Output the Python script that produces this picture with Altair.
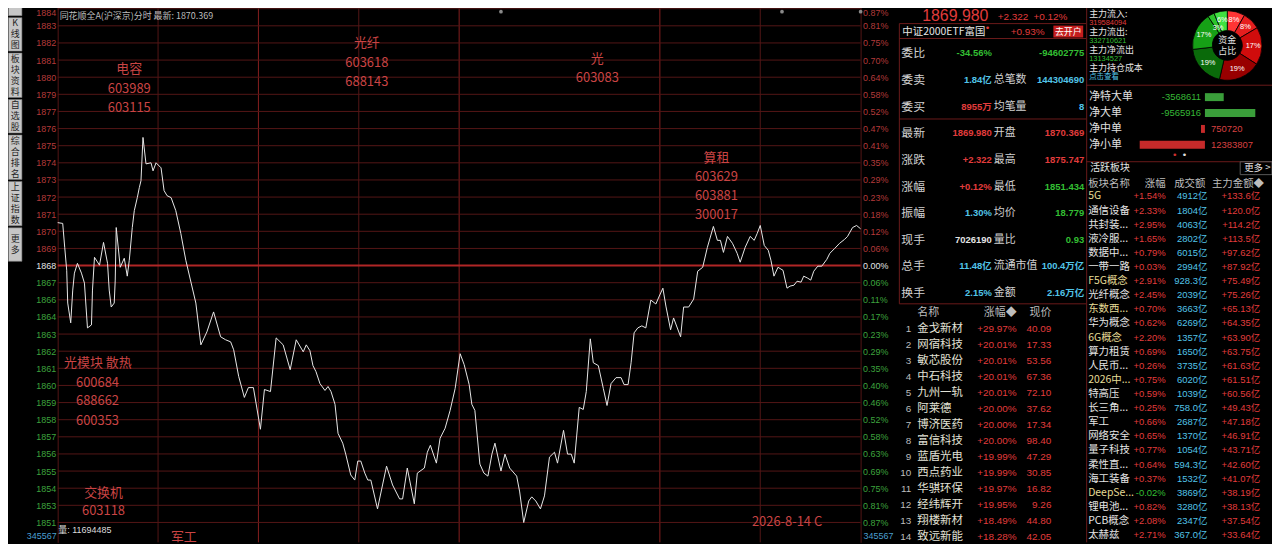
import json
import altair as alt
import pandas as pd

W, H = 1280, 544
PLOT_L, PLOT_R = 58, 866      # intraday plot area (px)
RIGHT_X = 1093                # left edge of the money-flow panel
SAFE = 8                      # page margin hides the first 8px on top/left

# colours / fonts
BG = "#000000"
GRID = "#541616"
GRID_V = "#861f1f"
ZERO_C = "#b02626"
BOX = "#6a1a1a"
ANN = "#c94444"
AX_RED = "#b43a3a"
AX_GREEN = "#3da33d"
RED = "#e23c3c"
GREEN = "#33bf33"
CYAN = "#52c4e8"
WHITE = "#e4e4e4"
GRAY = "#bdbdbd"
YEL = "#e6dc96"
NUM = "Liberation Sans, Noto Sans CJK SC"
CJK = "Noto Sans CJK SC"

# ---------------- data ----------------
PREV = 1867.658
LAST = 1869.980
HIGH = 1875.747
LOW = 1851.434
HEADER = "同花顺全A(沪深京)分时 最新: 1870.369"
VOLUME = 11694485
VOL_SCALE = 345567

minutes = [0, 1.5, 2.1, 2.7, 3.0, 3.9, 4.5, 5.0, 5.9, 7.1,
           8.0, 8.9, 10.1, 10.4, 11.0, 12.5, 13.7, 14.9, 15.4, 16.0,
           16.9, 17.2, 17.5, 18.7, 19.9, 20.8, 21.4, 22.3, 22.9, 23.8,
           24.4, 24.9, 25.5, 26.4, 27.9, 28.5, 29.4, 30.9, 31.8, 32.7,
           33.9, 35.3, 36.8, 38.3, 41.3, 42.8, 44.6, 46.6, 48.7, 50.2,
           51.7, 52.6, 54.1, 55.8, 57.0, 58.5, 60.6, 61.8, 63.6, 65.3,
           67.4, 69.5, 71.3, 73.4, 74.3, 75.4, 76.3, 77.2, 78.4, 79.9,
           80.8, 81.7, 82.9, 83.8, 85.2, 86.1, 87.6, 88.8, 89.7, 90.6,
           91.8, 92.7, 93.6, 95.6, 97.1, 98.3, 100.1, 102.2, 103.1, 104.5,
           106.6, 107.5, 109.6, 110.5, 111.4, 113.2, 114.3, 115.8, 117.3, 118.8,
           120.3, 121.5, 123.0, 123.8, 124.7, 126.2, 127.4, 128.6, 129.8, 130.7,
           132.5, 133.7, 135.1, 137.2, 138.1, 139.3, 140.8, 141.7, 142.9, 144.3,
           145.5, 147.0, 148.5, 149.4, 151.2, 152.4, 153.5, 154.4, 155.9, 157.1,
           158.0, 159.2, 160.1, 161.6, 163.1, 164.2, 165.4, 166.9, 168.4, 169.3,
           170.5, 171.4, 172.3, 173.4, 174.6, 175.8, 177.3, 178.8, 179.7, 180.9,
           181.8, 183.2, 184.1, 186.2, 187.1, 188.6, 190.1, 191.3, 192.8, 194.2,
           196.0, 197.2, 198.1, 199.0, 200.2, 201.7, 203.1, 204.0, 205.5, 207.0,
           208.2, 209.1, 210.0, 211.2, 212.4, 213.2, 214.1, 215.3, 216.8, 218.0,
           218.9, 220.1, 221.0, 222.2, 223.0, 224.2, 225.1, 226.0, 227.2, 228.4,
           229.9, 230.8, 232.3, 233.7, 235.2, 236.1, 237.6, 238.8, 240.0]

prices = [1870.37, 1870.32, 1868.81, 1867.36, 1865.29, 1864.04, 1866.11, 1867.18, 1867.80, 1867.18,
          1866.55, 1863.72, 1863.91, 1866.11, 1868.18, 1867.68, 1869.12, 1867.80, 1866.11, 1865.04,
          1865.29, 1866.74, 1870.06, 1867.55, 1868.12, 1866.99, 1867.99, 1870.06, 1871.13, 1871.95,
          1872.58, 1873.02, 1875.75, 1874.08, 1874.15, 1873.64, 1874.15, 1873.83, 1872.39, 1872.07,
          1871.95, 1871.13, 1869.69, 1867.99, 1865.29, 1862.65, 1863.47, 1864.73, 1863.16, 1862.97,
          1862.84, 1862.34, 1860.66, 1859.33, 1859.95, 1859.95, 1857.32, 1859.83, 1859.70, 1863.09,
          1862.65, 1861.08, 1862.97, 1862.21, 1862.65, 1862.28, 1861.34, 1860.96, 1860.20, 1859.77,
          1860.02, 1859.70, 1858.89, 1857.06, 1856.44, 1855.75, 1854.43, 1854.11, 1855.31, 1855.31,
          1854.55, 1854.11, 1854.11, 1852.29, 1853.80, 1854.99, 1853.80, 1852.92, 1852.92, 1854.87,
          1852.61, 1854.55, 1854.87, 1855.87, 1856.31, 1855.18, 1856.75, 1857.38, 1858.51, 1859.89,
          1862.09, 1861.40, 1860.14, 1858.89, 1858.51, 1855.12, 1854.55, 1854.36, 1855.75, 1856.44,
          1854.68, 1855.75, 1854.87, 1854.36, 1853.36, 1851.43, 1852.79, 1853.05, 1852.79, 1852.29,
          1853.11, 1855.56, 1855.87, 1855.18, 1857.25, 1855.75, 1855.75, 1855.18, 1858.70, 1858.57,
          1859.70, 1863.03, 1861.52, 1861.34, 1859.89, 1858.82, 1860.20, 1860.58, 1860.58, 1860.14,
          1860.14, 1861.52, 1863.41, 1863.72, 1863.85, 1863.72, 1865.48, 1865.23, 1865.67, 1866.23,
          1865.10, 1863.60, 1864.35, 1863.16, 1865.04, 1865.04, 1865.54, 1867.30, 1867.55, 1868.81,
          1870.13, 1869.25, 1869.25, 1868.49, 1869.50, 1869.06, 1868.43, 1867.87, 1868.81, 1869.50,
          1869.25, 1869.69, 1870.19, 1868.93, 1868.62, 1867.99, 1866.99, 1867.55, 1867.36, 1866.23,
          1866.36, 1866.42, 1866.67, 1866.61, 1866.99, 1866.86, 1866.74, 1867.30, 1867.62, 1867.62,
          1868.05, 1868.43, 1868.75, 1869.06, 1869.31, 1869.50, 1870.06, 1870.19, 1869.98]

LEFT_LABELS = ["1851", "1853", "1854", "1855", "1856", "1857", "1858", "1859", "1860", "1861",
               "1862", "1863", "1864", "1866", "1867", "1868", "1869", "1870", "1871", "1872",
               "1873", "1874", "1875", "1876", "1877", "1879", "1880", "1881", "1882", "1883", "1884"]
PCT_UP = ["0.06", "0.12", "0.18", "0.23", "0.29", "0.35", "0.41", "0.47", "0.52", "0.58",
          "0.64", "0.70", "0.75", "0.81", "0.87"]
PCT_DOWN = ["0.06", "0.11", "0.17", "0.23", "0.29", "0.35", "0.40", "0.46", "0.52", "0.58",
            "0.63", "0.69", "0.75", "0.81", "0.87"]

V_TIMES = [30, 60, 90, 120, 180, 210]
V_BRIGHT = [0, 1, 0, 1, 1, 0]
MARK_TIMES = [132.5, 216.5, 240.0]

NOTE_TEXT = ["电容", "603989", "603115", "光纤", "603618", "688143", "光", "603083",
             "算租", "603629", "603881", "300017", "光模块 散热", "600684", "688662", "600353",
             "交换机", "603118", "2026-8-14 C"]
NOTE_T = [21.4, 21.4, 21.4, 92.4, 92.4, 92.4, 161.3, 161.3,
          196.9, 196.9, 196.9, 196.9, 12.0, 11.9, 11.9, 11.9,
          13.7, 13.7, 218.0]
NOTE_P = [1880.05, 1878.79, 1877.60, 1881.70, 1880.46, 1879.23, 1880.72, 1879.52,
          1874.46, 1873.27, 1872.04, 1870.82, 1861.52, 1860.27, 1859.08, 1857.82,
          1853.30, 1852.17, 1851.44]
CUT_NOTE = ("军工", 37.7, 1850.50)

TABS = ["时图", "K线图", "板块资料", "自选股", "综合排名", "上证指数", "更多"]

ETF_NAME = "中证2000ETF富国"
ETF_CHG = 0.93
INFO_L1 = ["委比", "委卖", "委买", "最新", "涨跌", "涨幅", "振幅", "现手", "总手", "换手"]
INFO_V1 = ["-34.56%", "1.84亿", "8955万", "1869.980", "+2.322", "+0.12%", "1.30%", "7026190", "11.48亿", "2.15%"]
INFO_L2 = ["", "总笔数", "均笔量", "开盘", "最高", "最低", "均价", "量比", "流通市值", "金额"]
INFO_V2 = ["-94602775", "144304690", "8", "1870.369", "1875.747", "1851.434", "18.779", "0.93", "100.4万亿", "2.16万亿"]

STOCK_NAMES = ["金戈新材", "网宿科技", "敏芯股份", "中石科技", "九州一轨", "阿莱德", "博济医药",
               "富信科技", "蓝盾光电", "西点药业", "华骐环保", "经纬辉开", "翔楼新材", "致远新能"]
STOCK_CHG = [29.97, 20.01, 20.01, 20.01, 20.01, 20.00, 20.00, 20.00, 19.99, 19.99, 19.97, 19.95, 18.49, 18.28]
STOCK_PRICE = [40.09, 17.33, 53.56, 67.36, 72.10, 37.62, 17.34, 98.40, 47.29, 30.85, 16.82, 9.26, 44.80, 42.05]

FLOW_TOP_LABELS = ["主力流入:", "主力流出:", "主力净流出", "主力持仓成本"]
FLOW_TOP_VALUES = ["319584094", "332710621", "13134527", "点击查看"]
DONUT_PCT = [8, 8, 17, 19, 19, 17, 3, 6]
FLOW_NAMES = ["净特大单", "净大单", "净中单", "净小单"]
FLOW_VALUES = [-3568611, -9565916, 750720, 12383807]

SECTOR_NAMES = ["5G", "通信设备", "共封装...", "液冷服...", "数据中...", "一带一路", "F5G概念", "光纤概念",
                "东数西...", "华为概念", "6G概念", "算力租赁", "人民币...", "2026中...", "特高压", "长三角...",
                "军工", "网络安全", "量子科技", "柔性直...", "海工装备", "DeepSe...", "锂电池...", "PCB概念", "太赫兹"]
SECTOR_CHG = [1.54, 2.33, 2.95, 1.65, 0.79, 0.03, 2.91, 2.45, 0.70, 0.62, 2.20, 0.69, 0.26,
              0.75, 0.59, 0.25, 0.66, 0.65, 0.77, 0.64, 0.37, -0.02, 0.82, 2.08, 2.71]
SECTOR_AMT = [4912, 1804, 4063, 2802, 6015, 2994, 928.3, 2039, 3663, 6269, 1357, 1650, 3735,
              6020, 1039, 758.0, 2687, 1370, 1054, 594.3, 1532, 3869, 3280, 2347, 367.0]
SECTOR_MAIN = [133.6, 120.0, 114.2, 113.5, 97.62, 87.92, 75.49, 75.26, 65.13, 64.35, 63.90, 63.75, 61.63,
               61.51, 60.56, 49.43, 47.18, 46.91, 43.71, 42.60, 41.07, 38.19, 38.13, 37.54, 33.64]
SECTOR_YELLOW = ["5G", "F5G概念", "东数西...", "6G概念", "2026中...", "DeepSe..."]

# ---------------- helpers ----------------
STEP = (PREV - LOW) / 15
PPU = (H - 7 - 20) / (30 * STEP)
Y_TOP = PREV + 15 * STEP + 7 / PPU
Y_BOT = LOW - 20 / PPU
XS = alt.Scale(domain=[0, 240], range=[PLOT_L, PLOT_R], nice=False, zero=False)
YS = alt.Scale(domain=[Y_BOT, Y_TOP], nice=False, zero=False)


def ypr(field):
    return alt.Y(field, scale=YS, axis=None)


def xt(field):
    return alt.X(field, scale=XS, axis=None)


def rscale(first, pitch):
    return alt.Scale(domain=[-first / pitch, (H - first) / pitch], reverse=True, nice=False, zero=False)


def one():
    return pd.DataFrame({"a": [0]})


def txt(s, x, y, size, color, align="left", font=NUM, weight="normal"):
    return alt.Chart(pd.DataFrame({"s": [s]})).mark_text(
        align=align, baseline="middle", fontSize=size, font=font, fontWeight=weight, color=color
    ).encode(x=alt.value(x), y=alt.value(y), text="s:N")


def column(df, field, x, align, scale, size, color, font=NUM, weight="normal"):
    enc = dict(x=alt.value(x), y=alt.Y("row:Q", scale=scale, axis=None), text=alt.Text(f"{field}:N"))
    mark = dict(align=align, baseline="middle", fontSize=size, font=font, fontWeight=weight)
    if color.startswith("#"):
        mark["color"] = color
    else:
        enc["color"] = alt.Color(f"{color}:N", scale=None)
    return alt.Chart(df).mark_text(**mark).encode(**enc)


def segs(xs, x2s, ys, y2s, color):
    df = pd.DataFrame({"x": xs, "x2": x2s, "y": ys, "y2": y2s})
    return alt.Chart(df).mark_rule(color=color, strokeWidth=1).encode(
        x=alt.X("x:Q", scale=None), x2="x2:Q", y=alt.Y("y:Q", scale=None), y2="y2:Q")


# ---------------- sidebar tabs ----------------
sizes = [11 * max(len(t), 3) + 2.7 for t in TABS]
starts = [-20.7]
for s in sizes[:-1]:
    starts.append(starts[-1] + s)
tabs = pd.DataFrame({
    "start": [s + 1 for s in starts],
    "end": [s + z - 1 for s, z in zip(starts, sizes)],
})
tabs["mid"] = (tabs["start"] + tabs["end"]) / 2
char_rows = []
for j, t in enumerate(TABS):
    for i, ch in enumerate(t):
        char_rows.append({"ch": ch, "y": tabs["mid"][j] + (i - (len(t) - 1) / 2) * 11,
                          "c": "#d01e1e" if j == 0 else "#1e1e1e"})
tab_chars = pd.DataFrame(char_rows)
TAB_X0 = SAFE + 0.5
tab_rect = alt.Chart(tabs).mark_rect(color="#c6c6c6", stroke="#7a7a7a", strokeWidth=0.6, clip=True).encode(
    x=alt.value(TAB_X0), x2=alt.value(TAB_X0 + 13.5), y=alt.Y("start:Q", scale=None), y2="end:Q")
tab_text = alt.Chart(tab_chars).mark_text(font=CJK, fontSize=9, baseline="middle", clip=True).encode(
    x=alt.value(TAB_X0 + 6.8), y=alt.Y("y:Q", scale=None), text="ch:N", color=alt.Color("c:N", scale=None))

# ---------------- intraday chart ----------------
series = pd.DataFrame({"t": minutes, "p": prices})
ticks = pd.DataFrame({"k": list(range(-15, 16))})
ticks["price"] = PREV + ticks["k"] * STEP
ticks["t0"] = 0
ticks["t1"] = 240
tick_vals = [round(v, 4) for v in ticks["price"]]
RIGHT_LABELS = [p + "%" for p in reversed(PCT_DOWN)] + ["0.00%"] + [p + "%" for p in PCT_UP]


def label_expr(labels):
    return f"{json.dumps(labels)}[round((datum.value - {PREV - 15 * STEP:.4f}) / {STEP:.5f})]"


def side_color():
    return {"condition": [{"test": f"datum.value > {PREV + STEP / 2:.3f}", "value": AX_RED},
                          {"test": f"datum.value < {PREV - STEP / 2:.3f}", "value": AX_GREEN}],
            "value": WHITE}


def top_baseline():
    # the top label would sit inside the hidden page margin, so hang it below its line
    return {"condition": {"test": f"datum.value > {PREV + 14.5 * STEP:.3f}", "value": "top"},
            "value": "middle"}


def price_axis(orient, labels, offset):
    return alt.Axis(orient=orient, offset=offset, values=tick_vals, labelExpr=label_expr(labels),
                    labelColor=side_color(), labelBaseline=top_baseline(), ticks=False, grid=False,
                    domainColor=GRID, labelFont=NUM, labelFontSize=9, labelPadding=2,
                    labelOverlap=False, labelFlush=False, title=None)


vlines = pd.DataFrame({"t": V_TIMES, "bright": V_BRIGHT})
vgrid = alt.Chart(vlines).mark_rule(strokeWidth=1).encode(
    x=xt("t:Q"), color=alt.condition(alt.datum.bright == 1, alt.value(GRID_V), alt.value(GRID)))

hgrid = alt.Chart(ticks).mark_rule().encode(
    x=xt("t0:Q"), x2="t1:Q",
    y=alt.Y("price:Q", scale=YS, axis=price_axis("left", LEFT_LABELS, -PLOT_L)),
    color=alt.condition(alt.datum.k == 0, alt.value(ZERO_C), alt.value(GRID)),
    strokeWidth=alt.condition(alt.datum.k == 0, alt.value(2), alt.value(1)))

raxis = alt.Chart(ticks).mark_rule(opacity=0).encode(
    x=xt("t0:Q"), x2="t1:Q",
    y=alt.Y("price:Q", scale=YS, axis=price_axis("right", RIGHT_LABELS, -(W - PLOT_R))))

price_line = alt.Chart(series).mark_line(color="#e8e8e8", strokeWidth=1).encode(
    x=xt("t:Q"), y=ypr("p:Q"))

notes_df = pd.DataFrame({"s": NOTE_TEXT, "t": NOTE_T, "p": NOTE_P})
notes = alt.Chart(notes_df).mark_text(font=CJK, fontSize=13, color=ANN).encode(
    x=xt("t:Q"), y=ypr("p:Q"), text="s:N")

cut_df = pd.DataFrame({"s": [CUT_NOTE[0]], "t": [CUT_NOTE[1]], "p": [CUT_NOTE[2]]})
cut_note = alt.Chart(cut_df).mark_text(font=CJK, fontSize=13, color=ANN, clip=True).encode(
    x=xt("t:Q"), y=ypr("p:Q"), text="s:N")

header = txt(HEADER, 60, 14, 9, "#bdbdbd", font=CJK)

vol_df = pd.DataFrame({"s": [f"量: {VOLUME}"], "t": [0.2], "p": [1850.97]})
vol = alt.Chart(vol_df).mark_text(font=NUM, fontSize=9, color="#dcdcdc", align="left").encode(
    x=xt("t:Q"), y=ypr("p:Q"), text="s:N")
vs_df = pd.DataFrame({"s": [str(VOL_SCALE)] * 2, "t": [-0.3, 240.9], "p": [1850.60] * 2, "side": ["l", "r"]})
vs_left = alt.Chart(vs_df).transform_filter(alt.datum.side == "l").mark_text(
    font=NUM, fontSize=9, color="#4a9fd0", align="right").encode(x=xt("t:Q"), y=ypr("p:Q"), text="s:N")
vs_right = alt.Chart(vs_df).transform_filter(alt.datum.side == "r").mark_text(
    font=NUM, fontSize=9, color="#4a9fd0", align="left").encode(x=xt("t:Q"), y=ypr("p:Q"), text="s:N")

marks_df = pd.DataFrame({"t": MARK_TIMES, "p": [Y_TOP - 10 / PPU] * len(MARK_TIMES)})
markers = alt.Chart(marks_df).mark_point(filled=True, size=14, color="#8a8a8a", opacity=1).encode(
    x=xt("t:Q"), y=ypr("p:Q"))

# ---------------- quote panel ----------------
CMAP = {"R": RED, "G": GREEN, "C": CYAN, "W": WHITE}
C1_KEYS = "GCRRRRCWCC"
C2_KEYS = "GCCRRGGGCC"
info = pd.DataFrame({"row": range(10), "l1": INFO_L1, "v1": INFO_V1, "l2": INFO_L2, "v2": INFO_V2,
                     "c1": [CMAP[k] for k in C1_KEYS], "c2": [CMAP[k] for k in C2_KEYS]})
IS = rscale(52, 26.8)

stocks = pd.DataFrame({"row": range(len(STOCK_NAMES)), "name": STOCK_NAMES,
                       "rank": [str(i + 1) for i in range(len(STOCK_NAMES))],
                       "chg": [f"{v:+.2f}%" for v in STOCK_CHG],
                       "price": [f"{v:.2f}" for v in STOCK_PRICE]})
SS = rscale(329, 16.1)

button = alt.Chart(one()).mark_rect(color="#c41e1e").encode(
    x=alt.value(1060), x2=alt.value(1090), y=alt.value(24), y2=alt.value(36))

mid_layers = [
    segs([905] * 5, [RIGHT_X] * 4 + [905], [22, 37, 118, 304, 22], [22, 37, 118, 304, 304], BOX),
    txt(f"{LAST:.3f}", 928, 14.5, 16, RED),
    txt(f"{LAST - PREV:+.3f}", 1004, 15, 10, RED),
    txt(f"{(LAST - PREV) / PREV * 100:+.2f}%", 1040, 15, 10, RED),
    txt(ETF_NAME, 908, 30, 10.5, WHITE, font=CJK),
    txt("•", 992, 26, 10, RED),
    txt(f"{ETF_CHG:+.2f}%", 1017, 30, 10, RED),
    button,
    txt("去开户", 1075, 30, 9, "#ffffff", align="center", font=CJK),
    column(info, "l1", 907, "left", IS, 12, "#d0d0d0", font=CJK),
    column(info, "v1", 998, "right", IS, 9.5, "c1", weight="bold"),
    column(info, "l2", 1000, "left", IS, 11, "#d0d0d0", font=CJK),
    column(info, "v2", 1091, "right", IS, 9.5, "c2", weight="bold"),
    txt("名称", 923, 313, 11, GRAY, font=CJK),
    txt("涨幅◆", 1023, 313, 11, GRAY, align="right", font=CJK),
    txt("现价", 1058, 313, 11, GRAY, align="right", font=CJK),
    column(stocks, "rank", 917, "right", SS, 10, GRAY),
    column(stocks, "name", 923, "left", SS, 11.5, "#e2e2d6", font=CJK),
    column(stocks, "chg", 1023, "right", SS, 10, RED),
    column(stocks, "price", 1058, "right", SS, 10, RED),
]

# ---------------- money-flow / sector panel ----------------
top_lab = pd.DataFrame({"row": [0, 2, 4, 6], "s": FLOW_TOP_LABELS})
top_val = pd.DataFrame({"row": [1, 3, 5, 7], "s": FLOW_TOP_VALUES,
                        "c": [RED, GREEN, GREEN, CYAN]})
TS = rscale(12.5, 9)

DCX, DCY = 1235, 44
donut = pd.DataFrame({"i": range(len(DONUT_PCT)), "v": DONUT_PCT,
                      "lab": [f"{p}%" for p in DONUT_PCT],
                      "c": ["#ff3535", "#e61e1e", "#d00c0c", "#980000",
                            "#0a6a0a", "#16a016", "#2cc42c", "#40e040"]})
arc = alt.Chart(donut).mark_arc(innerRadius=15, outerRadius=35, stroke="#000000", strokeWidth=0.8).encode(
    theta=alt.Theta("v:Q", stack=True), order=alt.Order("i:Q"), color=alt.Color("c:N", scale=None),
    x=alt.value(DCX), y=alt.value(DCY))


def arc_labels(test, radius):
    # keep the full data so the stacked angles stay the same; blank the labels not wanted here
    return alt.Chart(donut).transform_calculate(
        shown=f"({test}) ? datum.lab : ''"
    ).mark_text(radius=radius, fontSize=7.5, color="#ffffff", font=NUM).encode(
        theta=alt.Theta("v:Q", stack=True), order=alt.Order("i:Q"), text="shown:N",
        x=alt.value(DCX), y=alt.value(DCY))


arc_lab_big = arc_labels("datum.v >= 5", 26)
arc_lab_small = arc_labels("datum.v < 5", 20)

flows = pd.DataFrame({"row": range(4), "name": FLOW_NAMES, "v": FLOW_VALUES})
flows["neg"] = -flows["v"]
flows["zero"] = 0
flows["txt"] = flows["v"].astype(str)
flows["c"] = ["#c62a2a" if v > 0 else "#3a9e3a" for v in FLOW_VALUES]
K_PX = 5.3e-6
ZERO_X = 119.5
XB = alt.Scale(domain=[-ZERO_X / K_PX, (W - RIGHT_X - ZERO_X) / K_PX], range=[RIGHT_X, W],
               nice=False, zero=False)
FS = rscale(96, 16)
bars = alt.Chart(flows).mark_rule(strokeWidth=8).encode(
    x=alt.X("neg:Q", scale=XB, axis=None), x2="zero:Q", y=alt.Y("row:Q", scale=FS, axis=None),
    color=alt.Color("c:N", scale=None))
val_pos = alt.Chart(flows).transform_filter(alt.datum.v > 0).mark_text(
    align="left", dx=6, fontSize=9.5, font=NUM, color="#d84040", baseline="middle").encode(
    x=alt.X("zero:Q", scale=XB, axis=None), y=alt.Y("row:Q", scale=FS, axis=None), text="txt:N")
val_neg = alt.Chart(flows).transform_filter(alt.datum.v < 0).mark_text(
    align="right", dx=-4, fontSize=9.5, font=NUM, color="#36b836", baseline="middle").encode(
    x=alt.X("zero:Q", scale=XB, axis=None), y=alt.Y("row:Q", scale=FS, axis=None), text="txt:N")

dot_red = txt("•", 1182, 154, 10, "#d03030", align="center")
dot_white = txt("•", 1192, 154, 10, "#dddddd", align="center")


def fmt_amt(v):
    return f"{v:.0f}亿" if v >= 1000 else f"{v:.1f}亿"


def fmt_main(v):
    return f"{v:+.1f}亿" if v >= 100 else f"{v:+.2f}亿"


sectors = pd.DataFrame({
    "row": range(len(SECTOR_NAMES)),
    "name": SECTOR_NAMES,
    "chg": [f"{v:+.2f}%" for v in SECTOR_CHG],
    "amt": [fmt_amt(v) for v in SECTOR_AMT],
    "main": [fmt_main(v) for v in SECTOR_MAIN],
    "nc": [YEL if n in SECTOR_YELLOW else WHITE for n in SECTOR_NAMES],
    "cc": [RED if v > 0 else GREEN for v in SECTOR_CHG],
})
SC = rscale(196, 14.2)

more_box = alt.Chart(one()).mark_rect(fill=None, stroke="#5a5a5a", strokeWidth=1).encode(
    x=alt.value(1248), x2=alt.value(W), y=alt.value(161), y2=alt.value(174))

right_layers = [
    segs([RIGHT_X + 0.5, RIGHT_X, RIGHT_X], [RIGHT_X + 0.5, W, W], [0, 84, 161], [H, 84, 161], BOX),
    column(top_lab, "s", 1096, "left", TS, 9, WHITE, font=CJK),
    column(top_val, "s", 1096, "left", TS, 7.5, "c"),
    arc, arc_lab_big, arc_lab_small,
    txt("资金", DCX, 39, 9, WHITE, align="center", font=CJK),
    txt("占比", DCX, 50, 9, WHITE, align="center", font=CJK),
    column(flows, "name", 1096, "left", FS, 11, "#e0e0e0", font=CJK),
    bars, val_pos, val_neg, dot_red, dot_white,
    txt("活跃板块", 1097, 167, 10, WHITE, font=CJK),
    more_box,
    txt("更多 >", 1252, 167, 9.5, WHITE, font=CJK),
    txt("板块名称", 1095, 183, 10.5, GRAY, font=CJK),
    txt("涨幅", 1173, 183, 10.5, GRAY, align="right", font=CJK),
    txt("成交额", 1213, 183, 10.5, GRAY, align="right", font=CJK),
    txt("主力金额◆", 1272, 183, 10.5, GRAY, align="right", font=CJK),
    column(sectors, "name", 1095, "left", SC, 10.5, "nc", font=CJK),
    column(sectors, "chg", 1173, "right", SC, 9.5, "cc"),
    column(sectors, "amt", 1215, "right", SC, 9.5, CYAN),
    column(sectors, "main", 1268, "right", SC, 9.5, RED),
]

chart = alt.layer(
    tab_rect, tab_text,
    vgrid, hgrid, price_line, notes, cut_note, header, vol, vs_left, vs_right, markers, raxis,
    *mid_layers, *right_layers,
).resolve_scale(x="independent", y="independent").properties(
    width=W, height=H, background=BG,
    autosize=alt.AutoSizeParams(type="none"),
    padding={"left": -SAFE, "top": -SAFE, "right": 0, "bottom": 0},
).configure_view(strokeWidth=0)

chart.save("out.html", embed_options={"renderer": "svg", "actions": False})
